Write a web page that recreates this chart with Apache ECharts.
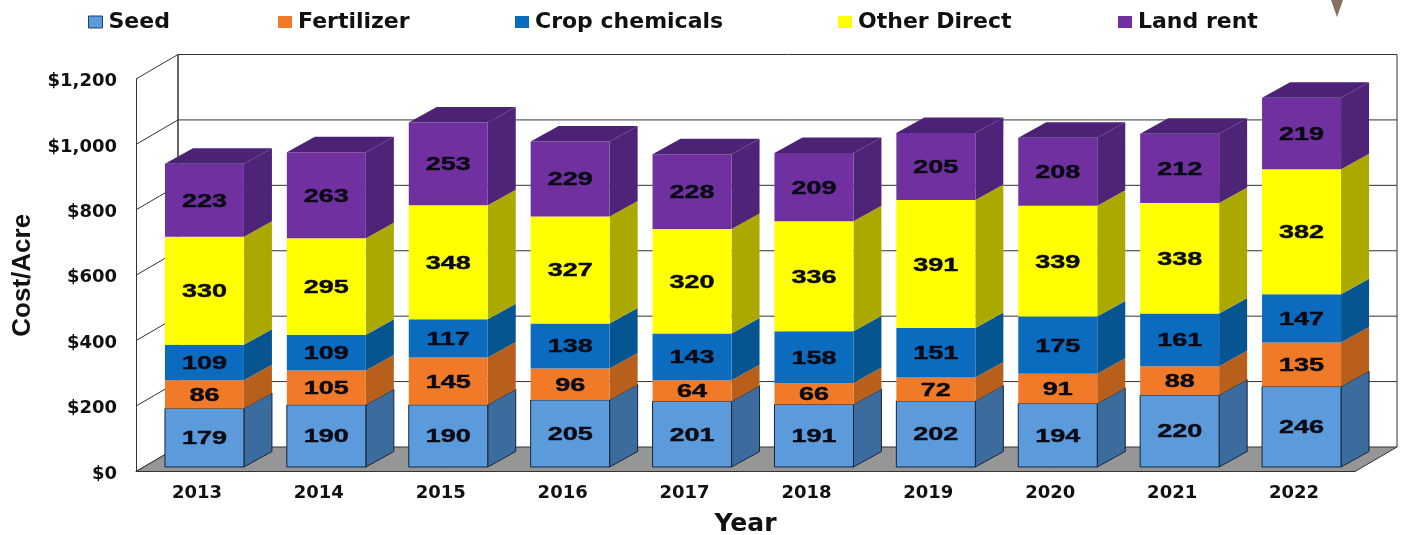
<!DOCTYPE html>
<html><head><meta charset="utf-8">
<style>html,body{margin:0;padding:0;background:#fff}#c{width:1405px;height:535px}</style>
<script src="https://cdn.jsdelivr.net/npm/echarts@6/dist/echarts.min.js"></script>
</head><body><div id="c"></div>
<script>
const years = ['2013','2014','2015','2016','2017','2018','2019','2020','2021','2022'];
const seed = [179,190,190,205,201,191,202,194,220,246];
const fertilizer = [86,105,145,96,64,66,72,91,88,135];
const cropChemicals = [109,109,117,138,143,158,151,175,161,147];
const otherDirect = [330,295,348,327,320,336,391,339,338,382];
const landRent = [223,263,253,229,228,209,205,208,212,219];
const yTicks = [0,200,400,600,800,1000,1200];
const names = ['Seed','Fertilizer','Crop chemicals','Other Direct','Land rent'];
const values = [seed, fertilizer, cropChemicals, otherDirect, landRent];
const frontColors = ['#5B9BDC','#F07A28','#0B6BBF','#FFFF00','#7030A0'];
const sideColors = ['#3C6C9E','#B85F1C','#075590','#ABA800','#4E2479'];
const topColor = '#4C2277';
const legendLeft = [88,278,515,838,1118];

const WALL = {dx:42, dy:-24.5}, BAR = {dx:28, dy:-15.5}, INSET = {dx:7.5, dy:-4.5}, BAR_RATIO = 0.648;
const LINE = '#333';

function wallItem(params, api){
  const cs = params.coordSys, v = api.value(1);
  const y = api.coord([0, v])[1];
  const x0 = cs.x, x1 = cs.x + cs.width;
  const kids = [];
  const line = (a,b,c,d,w)=>kids.push({type:'line',shape:{x1:a,y1:b,x2:c,y2:d},style:{stroke:LINE,lineWidth:w||1,fill:null}});
  line(x0, y, x0+WALL.dx, y+WALL.dy);
  if (v > 0) line(x0+WALL.dx, y+WALL.dy, x1+WALL.dx, y+WALL.dy);
  if (v === 0) {
    kids.push({type:'polygon',shape:{points:[[x0,y],[x1,y],[x1+WALL.dx,y+WALL.dy],[x0+WALL.dx,y+WALL.dy]]},style:{fill:'#969696',stroke:LINE,lineWidth:1}});
    const top = api.coord([0, yTicks[yTicks.length-1]])[1];
    line(x0+WALL.dx, y+WALL.dy, x0+WALL.dx, top+WALL.dy, 1.5);
    line(x1+WALL.dx, y+WALL.dy, x1+WALL.dx, top+WALL.dy, 1);
  }
  return {type:'group',children:kids};
}

function barItem(s){
  return function(params, api){
    const i = api.value(0), base = api.value(1), val = api.value(2);
    const band = api.size([1,0])[0], w = band*BAR_RATIO;
    const c = api.coord([i, 0]);
    const xl = c[0] - w/2 + INSET.dx, xr = xl + w;
    const yb = api.coord([i, base])[1] + INSET.dy, yt = api.coord([i, base+val])[1] + INSET.dy;
    const edge = s === 0 ? {stroke:'#15263a',lineWidth:1} : {stroke:null,lineWidth:0};
    const kids = [
      {type:'polygon',shape:{points:[[xr,yb],[xr+BAR.dx,yb+BAR.dy],[xr+BAR.dx,yt+BAR.dy],[xr,yt]]},style:Object.assign({fill:sideColors[s]},edge)},
      {type:'rect',shape:{x:xl,y:yt,width:w,height:yb-yt},style:Object.assign({fill:frontColors[s]},edge)}
    ];
    if (s === names.length-1) kids.push({type:'polygon',shape:{points:[[xl,yt],[xr,yt],[xr+BAR.dx,yt+BAR.dy],[xl+BAR.dx,yt+BAR.dy]]},style:{fill:topColor}});
    kids.push({type:'text',x:(xl+xr)/2,y:(yb+yt)/2+1.5,scaleX:1.5,style:{text:String(val),fill:'#0a0a14',stroke:'#0a0a14',lineWidth:0.4,fontFamily:'Liberation Sans',fontWeight:'bold',fontSize:18,align:'center',verticalAlign:'middle'}});
    return {type:'group',children:kids};
  };
}

const series = [{
  type:'custom',name:'walls',silent:true,z:1,renderItem:wallItem,
  data:yTicks.map(v=>[0,v]),encode:{x:0,y:1}
}];
names.forEach((n,s)=>{
  series.push({
    type:'custom',name:n,z:2+s,renderItem:barItem(s),
    itemStyle:{color:frontColors[s]},
    encode:{x:0,y:1},
    data:years.map((_,i)=>{
      let base=0; for(let k=0;k<s;k++) base+=values[k][i];
      return [i,base,values[s][i]];
    })
  });
});

const chart = echarts.init(document.getElementById('c'),null,{renderer:'canvas'});
chart.setOption({
  animation:false,
  backgroundColor:'#fff',
  grid:{left:136,right:50,top:79,bottom:63.5,outerBoundsMode:'none'},
  legend:names.map((n,s)=>({
    data:[{name:n,icon:'rect',itemStyle:{color:frontColors[s],borderColor:s===0?'#25405f':frontColors[s],borderWidth:s===0?1:0}}],
    left:legendLeft[s],top:11,padding:0,itemWidth:14,itemHeight:12,itemGap:0,
    textStyle:{fontFamily:'DejaVu Sans',fontWeight:'bold',fontSize:22,color:'#111',padding:[0,0,0,1]},
    selectedMode:false
  })),
  xAxis:{type:'category',data:years,
    axisLine:{show:true,lineStyle:{color:LINE,width:1}},axisTick:{show:false},splitLine:{show:false},
    axisLabel:{margin:13,fontFamily:'DejaVu Sans',fontWeight:'bold',fontSize:18,color:'#111'},
    name:'Year',nameLocation:'middle',nameGap:40,
    nameTextStyle:{fontFamily:'DejaVu Sans',fontWeight:'bold',fontSize:25,color:'#111'}},
  yAxis:{type:'value',min:0,max:1200,interval:200,
    axisLine:{show:true,lineStyle:{color:LINE,width:1}},axisTick:{show:false},splitLine:{show:false},
    axisLabel:{margin:19,fontFamily:'DejaVu Sans',fontWeight:'bold',fontSize:18,color:'#111',
      formatter:v=>'{t|$'+v.toLocaleString('en-US')+'}',
      rich:{t:{fontFamily:'DejaVu Sans',fontWeight:'bold',fontSize:18,color:'#111',padding:[5,0,0,0]}}},
    name:'Cost/Acre',nameLocation:'middle',nameGap:100,
    nameTextStyle:{fontFamily:'Liberation Sans',fontWeight:'bold',fontSize:26,color:'#111'}},
  graphic:[{type:'polygon',shape:{points:[[1331,0],[1343,0],[1337,17]]},style:{fill:'#84705c'}}],
  series:series
});
</script></body></html>
